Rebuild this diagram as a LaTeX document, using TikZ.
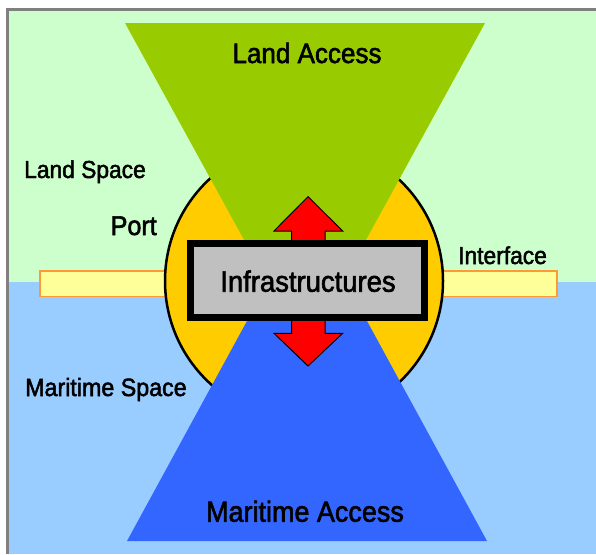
\documentclass[tikz,border=0pt]{standalone}
\usepackage{fontspec}
\setmainfont[FakeStretch=0.93,FakeBold=2]{Liberation Sans}
\definecolor{landbg}{HTML}{CCFFCC}
\definecolor{seabg}{HTML}{99CCFF}
\definecolor{landacc}{HTML}{99CC00}
\definecolor{seaacc}{HTML}{3366FF}
\definecolor{portc}{HTML}{FFCC00}
\definecolor{stripc}{HTML}{FFFF99}
\definecolor{stripb}{HTML}{FF9933}
\definecolor{infrac}{HTML}{C0C0C0}
\definecolor{framec}{HTML}{808080}
\begin{document}
\begin{tikzpicture}[x=1pt,y=-1pt,
  lbl/.style={inner sep=0pt, text=black},
  arrowshape/.style={fill=red, draw=black, line width=1pt, line join=miter},
  fs/.style={font=\fontsize{#1}{#1}\selectfont}]
\useasboundingbox (0,0) rectangle (596,554);
\fill[white] (0,0) rectangle (596,554);
\fill[landbg] (8.5,10.5) rectangle (596,282);
\fill[seabg] (8.5,282) rectangle (596,554);
\draw[framec, line width=2.5pt] (7.25,554) -- (7.25,9.25) -- (596,9.25);
% interface strip
\draw[stripb, fill=stripc, line width=1.5pt] (40,271) rectangle (557,296.5);
% port circle
\draw[fill=portc, line width=2.5pt] (304,281) circle [radius=139pt];
% access triangles
\fill[landacc] (125,23) -- (485,23) -- (305,351) -- cycle;
\fill[seaacc] (127,541) -- (487,541) -- (307,211) -- cycle;
% arrows
\draw[arrowshape] (308,196.7) -- (342.7,231) -- (325,231) -- (325,245) -- (291.7,245) -- (291.7,231) -- (274,231) -- cycle;
\draw[arrowshape] (308,366) -- (342.7,333.3) -- (325,333.3) -- (325,316) -- (291.7,316) -- (291.7,333.3) -- (274,333.3) -- cycle;
% infrastructure box
\draw[line width=7pt, fill=infrac] (190,243.5) rectangle (424.3,317.3);
% labels
\node[lbl, fs=28, anchor=base] (landacc) at (307,63) {Land Access};
\node[lbl, fs=24.5, anchor=base west] (landsp) at (24,178) {Land Space};
\node[lbl, fs=27, anchor=base west] (port) at (110.5,235) {Port};
\node[lbl, fs=24.5, anchor=base west] (iface) at (458,264) {Interface};
\node[lbl, fs=29.5, anchor=base] (infra) at (308,291.7) {Infrastructures};
\node[lbl, fs=25, anchor=base west] (marsp) at (25,396) {Maritime Space};
\node[lbl, fs=29, anchor=base] (maracc) at (305,521.7) {Maritime Access};
\end{tikzpicture}
\end{document}
